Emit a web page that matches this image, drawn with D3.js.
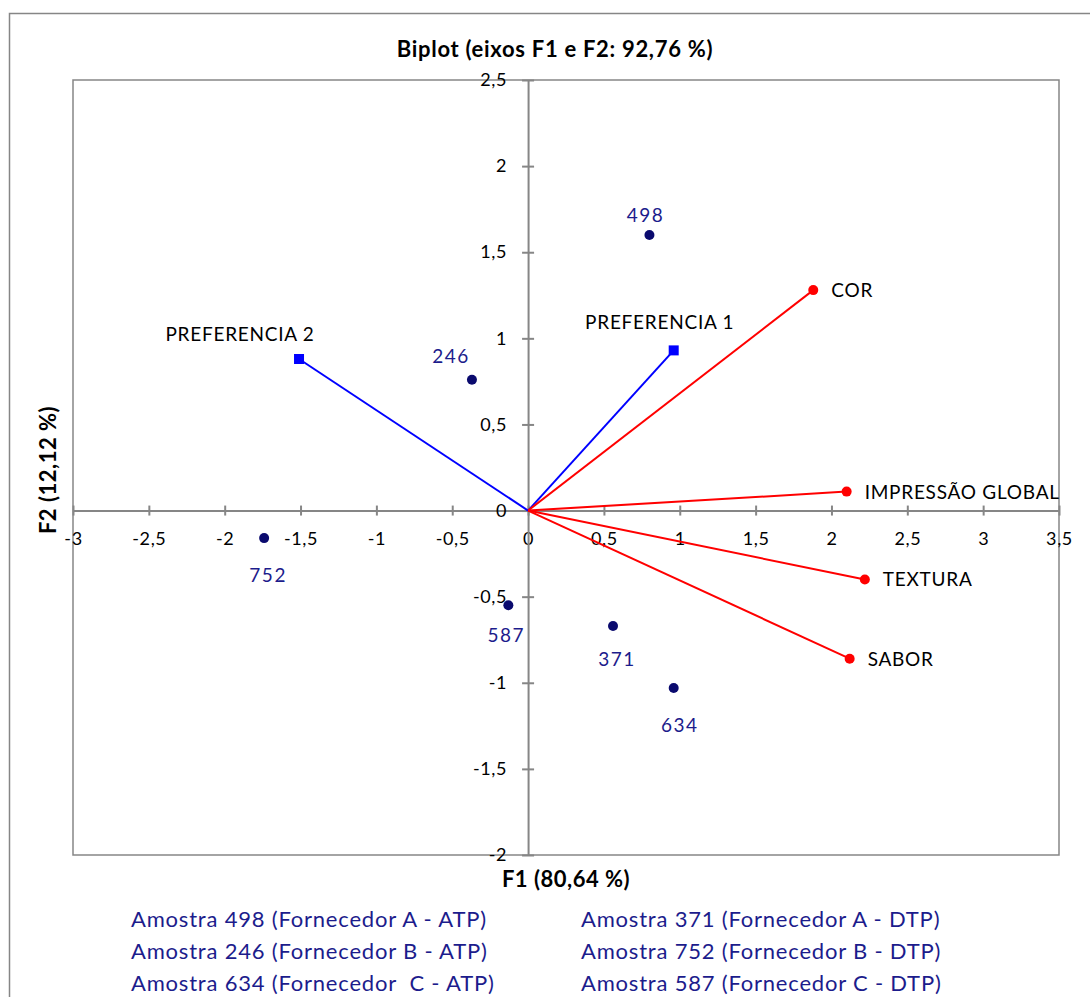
<!DOCTYPE html>
<html>
<head>
<meta charset="utf-8">
<script src="https://cdn.jsdelivr.net/npm/d3@7"></script>
<style>
  body { margin: 0; background: #fff; }
  svg { display: block; font-family: Lato, "Open Sans", sans-serif; }
</style>
</head>
<body>
<div id="chart"></div>
<script>
// observações (amostras)
const obsNames = ["498", "246", "752", "587", "371", "634"];
const obsF1 = [0.80, -0.37, -1.74, -0.13, 0.56, 0.96];
const obsF2 = [1.60, 0.76, -0.16, -0.55, -0.67, -1.03];

// variáveis (atributos)
const varNames = ["COR", "IMPRESSÃO GLOBAL", "TEXTURA", "SABOR"];
const varF1 = [1.88, 2.10, 2.22, 2.12];
const varF2 = [1.28, 0.11, -0.40, -0.86];

// preferências
const prefNames = ["PREFERENCIA 1", "PREFERENCIA 2"];
const prefF1 = [0.96, -1.51];
const prefF2 = [0.93, 0.88];

const xTicks = [-3, -2.5, -2, -1.5, -1, -0.5, 0, 0.5, 1, 1.5, 2, 2.5, 3, 3.5];
const yTicks = [-2, -1.5, -1, -0.5, 0, 0.5, 1, 1.5, 2, 2.5];

const legendLeft = [
  "Amostra 498 (Fornecedor A - ATP)",
  "Amostra 246 (Fornecedor B - ATP)",
  "Amostra 634 (Fornecedor  C - ATP)"
];
const legendRight = [
  "Amostra 371 (Fornecedor A - DTP)",
  "Amostra 752 (Fornecedor B - DTP)",
  "Amostra 587 (Fornecedor C - DTP)"
];

// décalages des étiquettes (style seulement)
const obsLabelOffset = {
  "498": [-4, -13], "246": [-21, -17], "752": [4, 44],
  "587": [-2, 37], "371": [4, 40], "634": [6, 44]
};

const W = 1090, H = 997;
const mLeft = 73, mRight = 1059, mTop = 80, mBottom = 855;
const gray = "#868686";
const navy = "#1c1c8c";
const fmt = d => String(d).replace(".", ",");

const svg = d3.select("#chart").append("svg")
  .attr("width", W).attr("height", H);

// cadre extérieur
svg.append("path")
  .attr("d", `M9.5,${H} V13.5 H${W}`)
  .attr("fill", "none").attr("stroke", gray).attr("stroke-width", 1.5);

const x = d3.scaleLinear().domain([-3, 3.5]).range([mLeft, mRight]);
const y = d3.scaleLinear().domain([-2, 2.5]).range([mBottom, mTop]);

// zone du graphique
svg.append("rect")
  .attr("x", mLeft).attr("y", mTop)
  .attr("width", mRight - mLeft).attr("height", mBottom - mTop)
  .attr("fill", "none").attr("stroke", gray).attr("stroke-width", 1.5);

// axe x (passe par y=0)
const gx = svg.append("g")
  .attr("transform", `translate(0,${y(0)})`)
  .call(d3.axisBottom(x).tickValues(xTicks).tickFormat(fmt).tickSizeOuter(0));
gx.select(".domain").attr("stroke", gray).attr("stroke-width", 2);
gx.selectAll(".tick line").attr("y1", -5).attr("y2", 5).attr("stroke", gray).attr("stroke-width", 2);
gx.selectAll(".tick text").attr("y", 22).attr("dy", "0.71em")
  .attr("font-size", 18).attr("letter-spacing", 0.6).attr("font-family", "Lato").attr("fill", "#000");

// axe y (passe par x=0)
const gy = svg.append("g")
  .attr("transform", `translate(${x(0)},0)`)
  .call(d3.axisLeft(y).tickValues(yTicks).tickFormat(fmt).tickSizeOuter(0));
gy.select(".domain").attr("stroke", gray).attr("stroke-width", 2);
gy.selectAll(".tick line").attr("x1", -6).attr("x2", 6).attr("stroke", gray).attr("stroke-width", 2);
gy.selectAll(".tick text").attr("x", -21)
  .attr("font-size", 18).attr("letter-spacing", 0.6).attr("font-family", "Lato").attr("fill", "#000");

const lblSize = 19, lblSpacing = 0.75;

// vecteurs préférences
prefNames.forEach((name, i) => {
  svg.append("line")
    .attr("x1", x(0)).attr("y1", y(0))
    .attr("x2", x(prefF1[i])).attr("y2", y(prefF2[i]))
    .attr("stroke", "#0000ff").attr("stroke-width", 2);
  svg.append("rect")
    .attr("x", x(prefF1[i]) - 5).attr("y", y(prefF2[i]) - 5)
    .attr("width", 10).attr("height", 10).attr("fill", "#0000ff");
});
svg.append("text").attr("x", x(prefF1[0]) - 14).attr("y", y(prefF2[0]) - 21)
  .attr("text-anchor", "middle").attr("font-size", lblSize).attr("letter-spacing", lblSpacing)
  .text(prefNames[0]);
svg.append("text").attr("x", x(prefF1[1]) - 59).attr("y", y(prefF2[1]) - 18)
  .attr("text-anchor", "middle").attr("font-size", lblSize).attr("letter-spacing", lblSpacing)
  .text(prefNames[1]);

// vecteurs variables
varNames.forEach((name, i) => {
  svg.append("line")
    .attr("x1", x(0)).attr("y1", y(0))
    .attr("x2", x(varF1[i])).attr("y2", y(varF2[i]))
    .attr("stroke", "#ff0000").attr("stroke-width", 2);
  svg.append("circle")
    .attr("cx", x(varF1[i])).attr("cy", y(varF2[i])).attr("r", 5)
    .attr("fill", "#ff0000");
  svg.append("text")
    .attr("x", x(varF1[i]) + 18).attr("y", y(varF2[i]) + 7)
    .attr("font-size", lblSize).attr("letter-spacing", lblSpacing).text(name);
});

// observations
svg.selectAll(".obs").data(obsNames).enter().append("circle")
  .attr("class", "obs")
  .attr("cx", (d, i) => x(obsF1[i])).attr("cy", (d, i) => y(obsF2[i]))
  .attr("r", 5).attr("fill", "#0a0a6e");
svg.selectAll(".obsLabel").data(obsNames).enter().append("text")
  .attr("class", "obsLabel")
  .attr("x", (d, i) => x(obsF1[i]) + obsLabelOffset[d][0])
  .attr("y", (d, i) => y(obsF2[i]) + obsLabelOffset[d][1])
  .attr("text-anchor", "middle").attr("font-size", 19)
  .attr("letter-spacing", 1.5).attr("fill", navy).text(d => d);

// titres
svg.append("text").attr("x", 555).attr("y", 57)
  .attr("text-anchor", "middle").attr("font-size", 22).attr("font-weight", "bold")
  .attr("letter-spacing", 0.7).text("Biplot (eixos F1 e F2: 92,76 %)");
svg.append("text").attr("x", 566).attr("y", 887)
  .attr("text-anchor", "middle").attr("font-size", 22).attr("font-weight", "bold")
  .attr("letter-spacing", 0.5).text("F1 (80,64 %)");
svg.append("text").attr("transform", "translate(56,470) rotate(-90)")
  .attr("text-anchor", "middle").attr("font-size", 22).attr("font-weight", "bold")
  .attr("letter-spacing", 0.5).text("F2 (12,12 %)");

// légende
legendLeft.forEach((t, i) => {
  svg.append("text").attr("x", 131).attr("y", 927 + i * 32)
    .attr("font-size", 22).attr("letter-spacing", 0.8).attr("fill", navy)
    .style("white-space", "pre").text(t);
});
legendRight.forEach((t, i) => {
  svg.append("text").attr("x", 581).attr("y", 927 + i * 32)
    .attr("font-size", 22).attr("letter-spacing", 0.8).attr("fill", navy)
    .style("white-space", "pre").text(t);
});
</script>
</body>
</html>
